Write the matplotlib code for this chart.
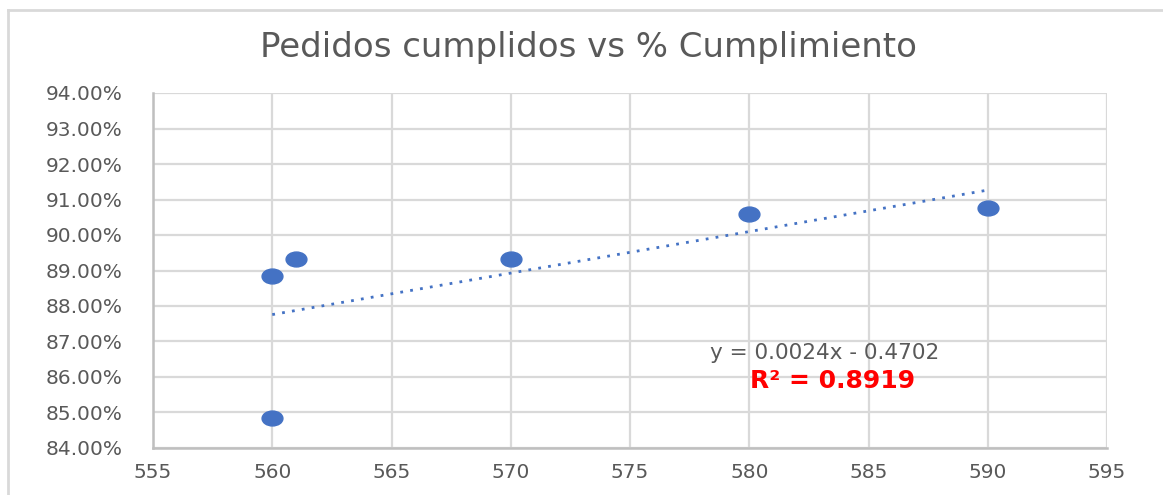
import numpy as np
import matplotlib
matplotlib.use('Agg')
import matplotlib.pyplot as plt
from matplotlib.path import Path
from matplotlib.transforms import Affine2D
from matplotlib.ticker import PercentFormatter, MultipleLocator
from matplotlib.lines import Line2D

# datos
pedidos = [560, 560, 561, 570, 580, 590]
cumplimiento = [0.8885, 0.8484, 0.8932, 0.8932, 0.9060, 0.9075]

titulo = 'Pedidos cumplidos vs % Cumplimiento'
ecuacion = 'y = 0.0024x - 0.4702'
r2_texto = 'R² = 0.8919'

azul = '#4472C4'
gris_texto = '#595959'
gris_grid = '#D9D9D9'

plt.rcParams['font.family'] = ['DejaVu Sans']

fig = plt.figure(figsize=(11.63, 4.95), dpi=100)
ax = fig.add_axes([153 / 1163, 1 - 448 / 495, (1107 - 153) / 1163, (448 - 93) / 495])

# marcador ovalado (el original está estirado en horizontal)
ovalo = Path.unit_circle().transformed(Affine2D().scale(1.4, 1.0))

# línea de tendencia calculada a partir de los datos
coef = np.polyfit(pedidos, cumplimiento, 1)
xt = np.array([min(pedidos), max(pedidos)])
ax.plot(xt, np.polyval(coef, xt), color=azul, lw=2.0,
        linestyle=(0, (1.0, 2.6)), zorder=3)

ax.plot(pedidos, cumplimiento, linestyle='none', marker=ovalo,
        markersize=15, color=azul, zorder=4)

ax.set_xlim(555, 595)
ax.set_ylim(0.84, 0.94)
ax.xaxis.set_major_locator(MultipleLocator(5))
ax.yaxis.set_major_locator(MultipleLocator(0.01))
ax.yaxis.set_major_formatter(PercentFormatter(xmax=1, decimals=2))

ax.grid(True, color=gris_grid, lw=1.6, zorder=0)
ax.set_axisbelow(True)
for lado in ['top', 'right']:
    ax.spines[lado].set_visible(False)
for lado in ['left', 'bottom']:
    ax.spines[lado].set_color('#BFBFBF')
    ax.spines[lado].set_linewidth(1.8)

ax.tick_params(axis='both', length=0, labelsize=14.5, colors=gris_texto)
ax.tick_params(axis='y', pad=22)
ax.tick_params(axis='x', pad=11)

fig.text(588 / 1163, 1 - 47 / 495, titulo, ha='center', va='center',
         fontsize=24.5, color=gris_texto)

ax.text(0.584, 0.268, ecuacion, transform=ax.transAxes, ha='left',
        va='center', fontsize=15.5, color=gris_texto)
ax.text(0.626, 0.19, r2_texto, transform=ax.transAxes, ha='left',
        va='center', fontsize=18, color='#FF0000', fontweight='bold')

# borde del área del gráfico
fig.add_artist(Line2D([8 / 1163, 1], [1 - 10 / 495, 1 - 10 / 495],
                      color=gris_grid, lw=2, transform=fig.transFigure))
fig.add_artist(Line2D([8 / 1163, 8 / 1163], [0, 1 - 10 / 495],
                      color=gris_grid, lw=2, transform=fig.transFigure))

fig.savefig('out.png', dpi=100)
